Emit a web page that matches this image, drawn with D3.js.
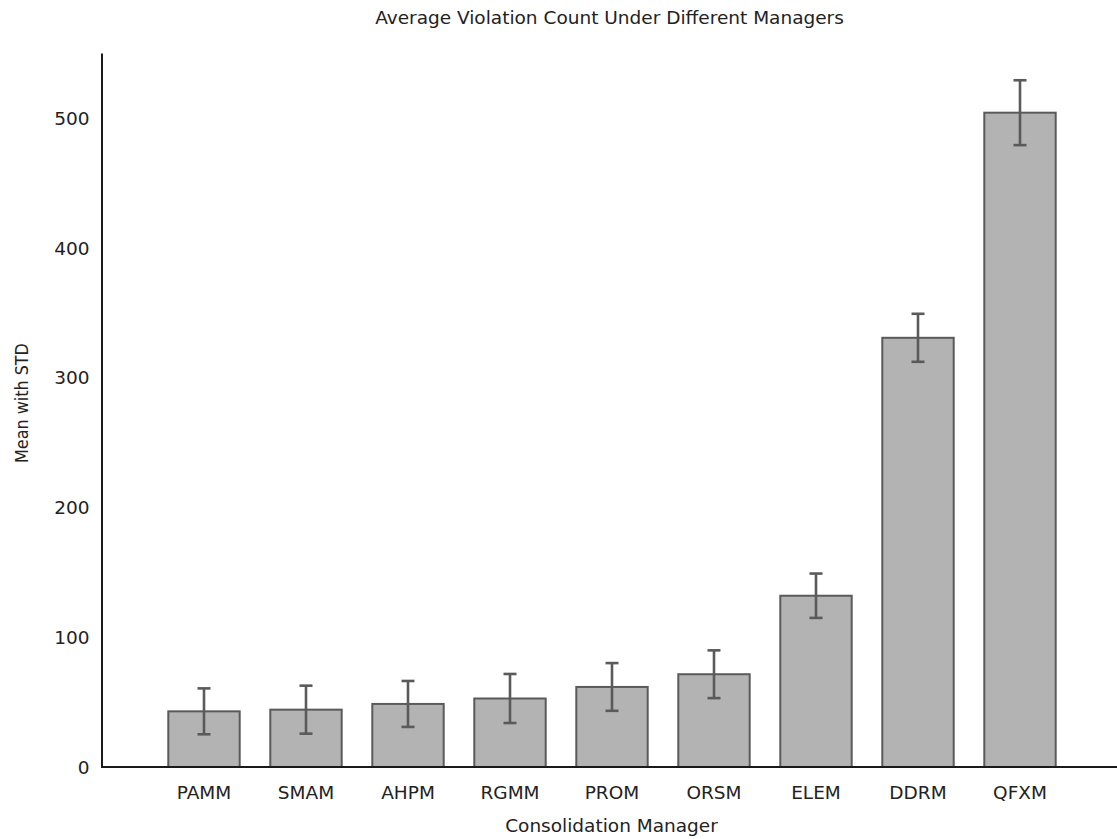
<!DOCTYPE html>
<html>
<head>
<meta charset="utf-8">
<script src="https://cdn.jsdelivr.net/npm/d3@7"></script>
<style>
  html, body { margin: 0; padding: 0; background: #fff; }
  svg { display: block; }
  text { font-family: "DejaVu Sans", sans-serif; fill: #222; }
</style>
</head>
<body>
<svg id="chart" width="1117" height="839"></svg>
<script>
// Consolidation managers and their mean violation counts with standard deviation
const managers = ["PAMM", "SMAM", "AHPM", "RGMM", "PROM", "ORSM", "ELEM", "DDRM", "QFXM"];
const means = [42.9, 44.2, 48.6, 52.8, 61.7, 71.5, 132.0, 330.8, 504.3];
const stds = [17.7, 18.5, 17.7, 18.9, 18.4, 18.4, 17.1, 18.5, 25.0];
const yTicks = [0, 100, 200, 300, 400, 500];

const chartTitle = "Average Violation Count Under Different Managers";
const xTitle = "Consolidation Manager";
const yTitle = "Mean with STD";

const FONT = 18.5;
const YLABEL_FONT = 16;

const svg = d3.select("#chart");

const x = d3.scaleLinear().domain([-1, 9]).range([102, 1122]);
const y = d3.scaleLinear().domain([0, 550]).range([767, 53.4]);
const barW = 0.7 * (x(1) - x(0));
const capW = 13;

// Bars
svg.append("g").selectAll("rect")
  .data(managers)
  .join("rect")
  .attr("x", (d, i) => x(i) - barW / 2)
  .attr("y", (d, i) => y(means[i]))
  .attr("width", barW)
  .attr("height", (d, i) => y(0) - y(means[i]))
  .attr("fill", "#b3b3b3")
  .attr("stroke", "#5a5a5a")
  .attr("stroke-width", 2);

// Error bars
const err = svg.append("g").attr("stroke", "#5a5a5a").attr("stroke-width", 2.6);
managers.forEach((m, i) => {
  const cx = x(i), top = y(means[i] + stds[i]), bot = y(means[i] - stds[i]);
  err.append("line").attr("x1", cx).attr("x2", cx).attr("y1", top).attr("y2", bot);
  err.append("line").attr("x1", cx - capW / 2).attr("x2", cx + capW / 2).attr("y1", top).attr("y2", top);
  err.append("line").attr("x1", cx - capW / 2).attr("x2", cx + capW / 2).attr("y1", bot).attr("y2", bot);
});

// Axis lines
svg.append("line").attr("x1", x(-1)).attr("x2", x(-1)).attr("y1", y(550)).attr("y2", y(0) + 1)
  .attr("stroke", "#1a1a1a").attr("stroke-width", 2);
svg.append("line").attr("x1", x(-1) - 1).attr("x2", 1117).attr("y1", y(0)).attr("y2", y(0))
  .attr("stroke", "#1a1a1a").attr("stroke-width", 2);

// Y tick labels
svg.append("g").selectAll("text")
  .data(yTicks)
  .join("text")
  .attr("x", 89.5)
  .attr("y", d => y(d))
  .attr("text-anchor", "end")
  .attr("dy", "0.36em")
  .attr("font-size", FONT)
  .text(d => d);

// X tick labels
svg.append("g").selectAll("text")
  .data(managers)
  .join("text")
  .attr("x", (d, i) => x(i))
  .attr("y", 798.5)
  .attr("text-anchor", "middle")
  .attr("font-size", FONT)
  .text(d => d);

// Titles
svg.append("text")
  .attr("x", 609.5)
  .attr("y", 23.5)
  .attr("text-anchor", "middle")
  .attr("font-size", FONT)
  .text(chartTitle);

svg.append("text")
  .attr("x", 611.5)
  .attr("y", 832)
  .attr("text-anchor", "middle")
  .attr("font-size", FONT)
  .text(xTitle);

// Y-axis title: a little heavier across the glyphs than along the text
svg.append("text")
  .attr("transform", "translate(28,403) rotate(-90) scale(1,1.14)")
  .attr("text-anchor", "middle")
  .attr("font-size", YLABEL_FONT)
  .text(yTitle);
</script>
</body>
</html>
